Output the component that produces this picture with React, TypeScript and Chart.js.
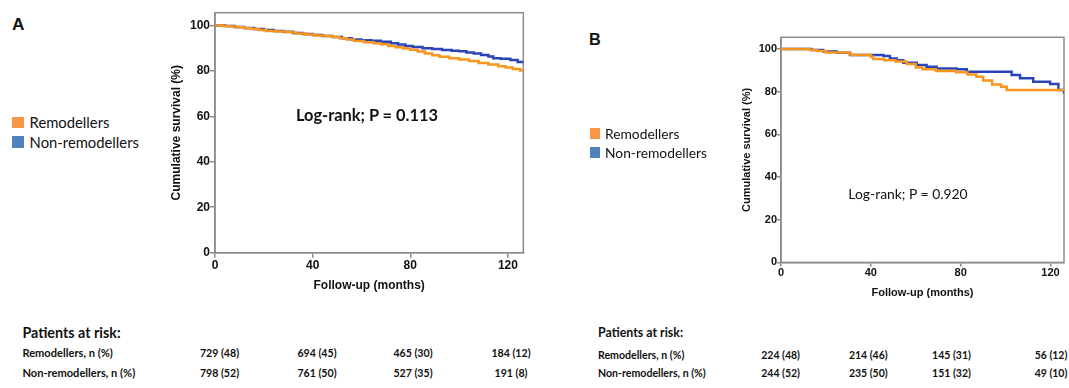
import React, { useEffect, useRef } from "react";
import { Chart, registerables } from "chart.js";
Chart.register(...registerables);

// ---------- data ----------
const xTicks = [0, 40, 80, 120];
const yTicks = [0, 20, 40, 60, 80, 100];
const seriesLabels = ["Remodellers", "Non-remodellers"];
const yTitle = "Cumulative survival (%)";
const xTitle = "Follow-up (months)";
const logRankA = "Log-rank; P = 0.113";
const logRankB = "Log-rank; P = 0.920";
const riskHeader = "Patients at risk:";
const riskRowLabels = ["Remodellers, n (%)", "Non-remodellers, n (%)"];
const riskA_remod = ["729 (48)", "694 (45)", "465 (30)", "184 (12)"];
const riskA_non = ["798 (52)", "761 (50)", "527 (35)", "191 (8)"];
const riskB_remod = ["224 (48)", "214 (46)", "145 (31)", "56 (12)"];
const riskB_non = ["244 (52)", "235 (50)", "151 (32)", "49 (10)"];

// Panel A – Kaplan-Meier steps (months, survival %)
const remodA_t = [0, 3, 6, 9, 12, 15, 18, 21, 25, 29, 33, 37, 41, 45, 48, 51, 54, 57, 61, 65, 68, 71, 74, 77, 80, 83, 86, 89, 92, 96, 100, 104, 108, 112, 116, 119, 122, 125, 126.3];
const remodA_s = [100, 99.8, 99.5, 99.2, 98.8, 98.4, 98.0, 97.6, 97.3, 97.0, 96.5, 96.0, 95.6, 95.4, 94.9, 94.4, 93.8, 93.2, 92.6, 92.2, 91.7, 91.0, 90.4, 89.9, 89.3, 88.5, 87.6, 86.9, 86.2, 85.6, 85.0, 84.4, 83.5, 82.8, 82.0, 81.5, 80.8, 80.2, 80.2];
const nonA_t = [0, 4, 8, 12, 16, 20, 24, 28, 32, 36, 40, 44, 48, 52, 56, 60, 64, 68, 72, 75, 78, 81, 85, 89, 93, 97, 100, 103, 106, 109, 112, 114, 117, 121, 124, 126.3];
const nonA_s = [100, 99.7, 99.3, 98.9, 98.4, 98.0, 97.6, 97.2, 96.7, 96.2, 95.8, 95.4, 94.9, 94.4, 93.8, 93.5, 93.3, 92.8, 92.2, 91.6, 91.0, 90.5, 90.0, 89.6, 89.2, 88.9, 88.6, 88.1, 87.6, 87.0, 86.3, 85.6, 85.3, 84.8, 83.9, 83.4];

// Panel B
const remodB_t = [0, 13, 16, 20, 30, 31, 40, 41, 46, 51, 56, 60, 63, 69, 78, 83, 87, 90, 94, 98, 100.5, 126];
const remodB_s = [100, 99.5, 99.1, 98.4, 98.0, 97.2, 96.4, 95.3, 94.8, 94.1, 93.0, 91.4, 90.5, 89.7, 89.1, 88.1, 87.0, 85.2, 83.4, 82.3, 80.8, 80.8];
const nonB_t = [0, 13.6, 18.8, 24.8, 30.7, 45.6, 48.5, 51.5, 54.5, 60.4, 64.8, 69.3, 78.2, 82.7, 102.7, 106.4, 112.3, 119.8, 123.5, 126];
const nonB_s = [100, 99.5, 98.8, 98.3, 97.2, 96.7, 95.6, 94.8, 93.6, 92.5, 91.7, 90.9, 90.5, 89.3, 87.8, 86.3, 84.7, 83.6, 80.8, 79.2];

// ---------- styles ----------
const ORANGE_LINE = "#F8961E";
const BLUE_LINE = "#2B45B8";
const ORANGE_BOX = "#F79646";
const BLUE_BOX = "#4F81BD";
const AXIS = "#8c8c8c";
const TXT = "#111111";
const CHART_FONT = "'Liberation Sans', Arial, sans-serif";
const HTML_FONT = "Lato, 'Open Sans', sans-serif";

type Geo = {
  left: number; top: number; w: number; h: number;
  yW: number; xH: number; padTop: number; padRight: number;
  xMax: number; yMax: number; tickFont: number; titleFont: number;
  tickLen: number; xTickPad: number; yTitlePad: number; xTitlePad: number;
};

const geoA: Geo = {
  left: 160, top: 0, w: 380, h: 300, yW: 55, xH: 47.3, padTop: 12.7, padRight: 16.7,
  xMax: 126.3, yMax: 105.6, tickFont: 12, titleFont: 12, tickLen: 5, xTickPad: 1,
  yTitlePad: 9.3, xTitlePad: 7.1,
};
const geoB: Geo = {
  left: 730, top: 0, w: 339, h: 310, yW: 51, xH: 47.6, padTop: 37.3, padRight: 5,
  xMax: 126, yMax: 105.5, tickFont: 11, titleFont: 11, tickLen: 4, xTickPad: 0,
  yTitlePad: 10.1, xTitlePad: 10.7,
};

function pts(t: number[], s: number[]) {
  return t.map((x, i) => ({ x, y: s[i] }));
}

function KMChart(props: { g: Geo; rt: number[]; rs: number[]; nt: number[]; ns: number[] }) {
  const ref = useRef<HTMLCanvasElement | null>(null);
  const { g } = props;
  useEffect(() => {
    if (!ref.current) return;
    const boxPlugin = {
      id: "plotBox",
      beforeDatasetsDraw(chart: any) {
        const { ctx, chartArea: a } = chart;
        ctx.save();
        ctx.strokeStyle = AXIS;
        ctx.lineWidth = 1.5;
        ctx.strokeRect(a.left, a.top, a.right - a.left, a.bottom - a.top);
        ctx.restore();
      },
    };
    const tickFont = { family: CHART_FONT, size: g.tickFont, weight: "bold" as const };
    const titleFont = { family: CHART_FONT, size: g.titleFont, weight: "bold" as const };
    const chart = new Chart(ref.current, {
      type: "line",
      data: {
        datasets: [
          {
            label: seriesLabels[0],
            data: pts(props.rt, props.rs),
            borderColor: ORANGE_LINE,
            borderWidth: 2.5,
            pointRadius: 0,
            stepped: "before",
            fill: false,
          },
          {
            label: seriesLabels[1],
            data: pts(props.nt, props.ns),
            borderColor: BLUE_LINE,
            borderWidth: 2.5,
            pointRadius: 0,
            stepped: "before",
            fill: false,
          },
        ],
      },
      options: {
        animation: false,
        responsive: false,
        events: [],
        layout: { padding: { top: g.padTop, right: g.padRight, left: 0, bottom: 0 } },
        plugins: { legend: { display: false }, tooltip: { enabled: false } },
        scales: {
          x: {
            type: "linear",
            min: 0,
            max: g.xMax,
            afterBuildTicks: (s: any) => {
              s.ticks = xTicks.map((v) => ({ value: v }));
            },
            afterFit: (s: any) => {
              s.height = g.xH;
            },
            grid: { display: true, drawOnChartArea: false, drawTicks: true, tickLength: g.tickLen, color: AXIS, lineWidth: 1.5 },
            border: { display: true, color: AXIS, width: 1.5 },
            ticks: { color: TXT, font: tickFont, padding: g.xTickPad, maxRotation: 0, autoSkip: false },
            title: { display: true, text: xTitle, color: TXT, font: titleFont, padding: { top: 0, bottom: g.xTitlePad } },
          },
          y: {
            type: "linear",
            min: 0,
            max: g.yMax,
            afterBuildTicks: (s: any) => {
              s.ticks = yTicks.map((v) => ({ value: v }));
            },
            afterFit: (s: any) => {
              s.width = g.yW;
            },
            grid: { display: true, drawOnChartArea: false, drawTicks: true, tickLength: g.tickLen, color: AXIS, lineWidth: 1.5 },
            border: { display: true, color: AXIS, width: 1.5 },
            ticks: { color: TXT, font: tickFont, padding: 0, autoSkip: false },
            title: { display: true, text: yTitle, color: TXT, font: titleFont, padding: { top: g.yTitlePad, bottom: 0 } },
          },
        },
      },
      plugins: [boxPlugin],
    } as any);
    return () => chart.destroy();
  }, []);
  return (
    <canvas
      ref={ref}
      width={g.w}
      height={g.h}
      style={{ position: "absolute", left: g.left, top: g.top, width: g.w, height: g.h }}
    />
  );
}

function T(p: { x: number; y: number; text: string; size: number; bold?: boolean; align?: "left" | "center"; family?: string }) {
  return (
    <div
      style={{
        position: "absolute",
        left: p.x,
        top: p.y - p.size * 0.53,
        fontSize: p.size,
        lineHeight: `${p.size}px`,
        fontFamily: p.family || HTML_FONT,
        fontWeight: p.bold ? 700 : 400,
        color: TXT,
        whiteSpace: "nowrap",
        transform: p.align === "center" ? "translateX(-50%)" : undefined,
      }}
    >
      {p.text}
    </div>
  );
}

function Box(p: { x: number; y: number; w: number; h: number; c: string }) {
  return <div style={{ position: "absolute", left: p.x, top: p.y, width: p.w, height: p.h, background: p.c }} />;
}

const colsA = [219.5, 317, 413, 511];
const colsB = [780.6, 868.3, 951.5, 1051];

export default function App() {
  return (
    <div style={{ position: "absolute", left: 0, top: 0, width: 1069, height: 388, background: "#fff", overflow: "hidden" }}>
      {/* Panel A */}
      <T x={12} y={25.5} text="A" size={17.3} bold family={CHART_FONT} />
      <KMChart g={geoA} rt={remodA_t} rs={remodA_s} nt={nonA_t} ns={nonA_s} />
      <Box x={12.4} y={116.7} w={11.7} h={11.7} c={ORANGE_BOX} />
      <Box x={12.4} y={136} w={11.7} h={11.7} c={BLUE_BOX} />
      <T x={29.6} y={123.3} text={seriesLabels[0]} size={14.8} />
      <T x={29.6} y={142.7} text={seriesLabels[1]} size={14.8} />
      <T x={367} y={116} text={logRankA} size={16.4} bold align="center" />
      <T x={22.4} y={333.3} text={riskHeader} size={14.3} bold />
      <T x={22.4} y={353.3} text={riskRowLabels[0]} size={11.1} bold />
      <T x={22.4} y={373.3} text={riskRowLabels[1]} size={11.1} bold />
      {riskA_remod.map((v, i) => (
        <T key={"ar" + i} x={colsA[i]} y={353.3} text={v} size={10.6} bold align="center" />
      ))}
      {riskA_non.map((v, i) => (
        <T key={"an" + i} x={colsA[i]} y={373.3} text={v} size={10.6} bold align="center" />
      ))}

      {/* Panel B */}
      <T x={589} y={40} text="B" size={16.3} bold family={CHART_FONT} />
      <KMChart g={geoB} rt={remodB_t} rs={remodB_s} nt={nonB_t} ns={nonB_s} />
      <Box x={589.5} y={128.3} w={10.5} h={11} c={ORANGE_BOX} />
      <Box x={589.5} y={146.7} w={10.5} h={11} c={BLUE_BOX} />
      <T x={605} y={134.7} text={seriesLabels[0]} size={13.8} />
      <T x={605} y={153.3} text={seriesLabels[1]} size={13.8} />
      <T x={908} y={194} text={logRankB} size={13.9} align="center" />
      <T x={598} y={334} text={riskHeader} size={12.4} bold />
      <T x={598} y={355.7} text={riskRowLabels[0]} size={10.6} bold />
      <T x={598} y={373.3} text={riskRowLabels[1]} size={10.6} bold />
      {riskB_remod.map((v, i) => (
        <T key={"br" + i} x={colsB[i]} y={355.7} text={v} size={10.5} bold align="center" />
      ))}
      {riskB_non.map((v, i) => (
        <T key={"bn" + i} x={colsB[i]} y={373.3} text={v} size={10.5} bold align="center" />
      ))}
    </div>
  );
}
